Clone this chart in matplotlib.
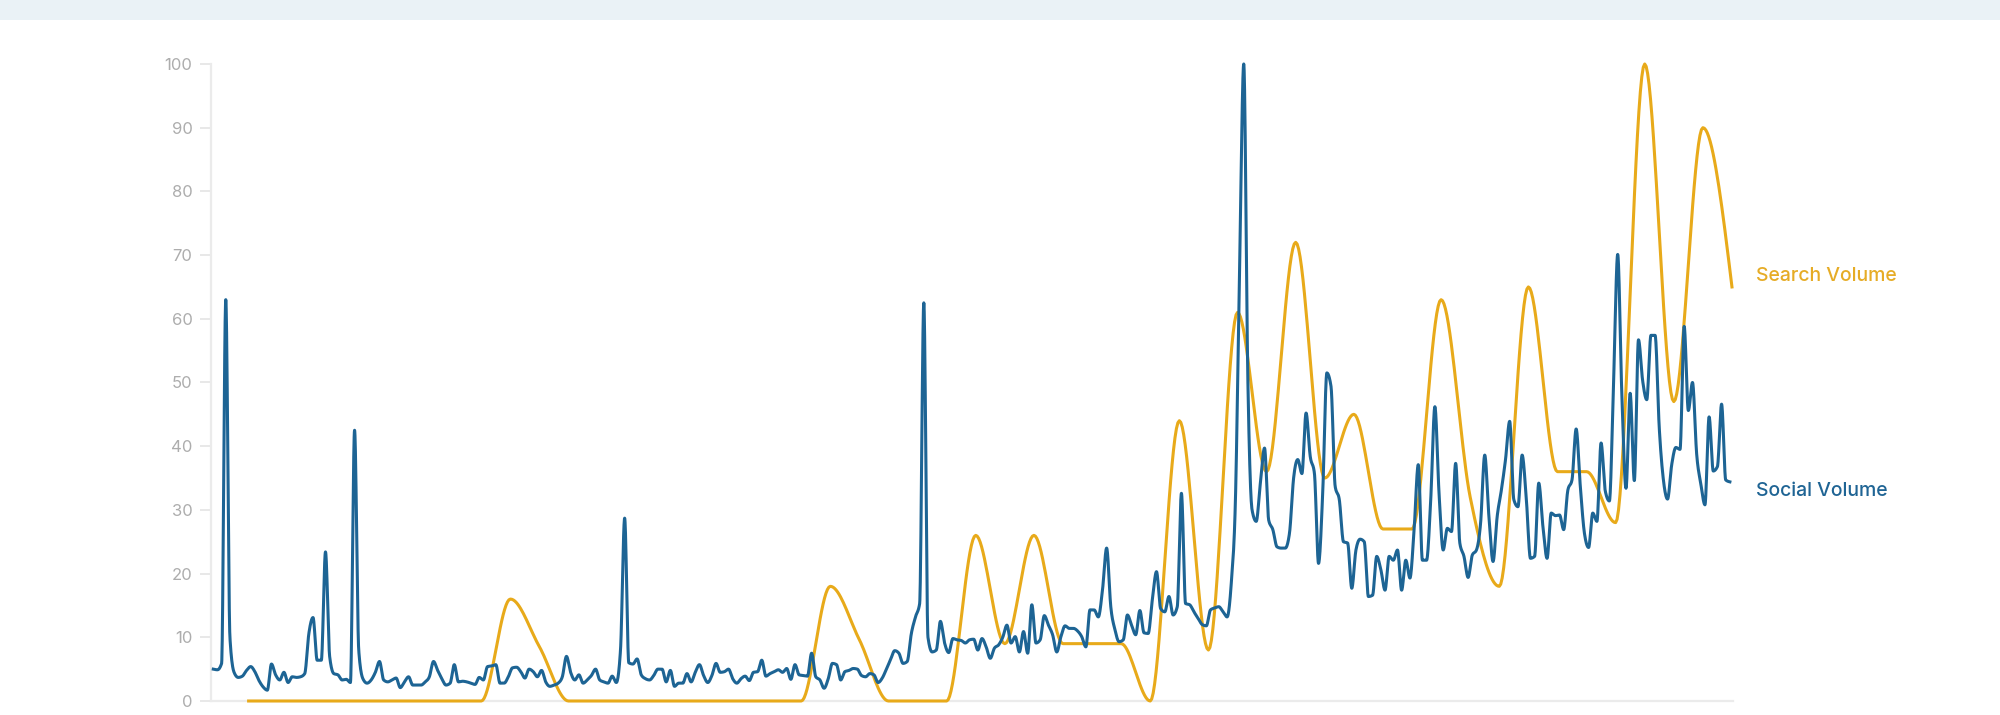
import numpy as np
import matplotlib
matplotlib.use("Agg")
import matplotlib.pyplot as plt
from matplotlib.patches import Rectangle

# daily social volume (index 0..100), one value per day
social = [
    5.0, 4.9, 5.9, 63.0, 10.0, 4.5, 3.7, 3.9, 4.8, 5.4,
    4.6, 3.2, 2.2, 1.7, 5.8, 4.1, 3.3, 4.5, 2.9, 3.8,
    3.7, 3.8, 4.3, 10.6, 13.1, 6.4, 6.4, 23.4, 7.0, 4.3,
    4.1, 3.3, 3.4, 2.9, 42.5, 8.0, 3.5, 2.8, 3.3, 4.5,
    6.2, 3.3, 3.0, 3.3, 3.6, 2.1, 3.0, 3.8, 2.5, 2.5,
    2.5, 3.0, 3.8, 6.2, 4.8, 3.5, 2.5, 2.8, 5.7, 3.0,
    3.1, 3.0, 2.8, 2.6, 3.7, 3.3, 5.4, 5.5, 5.7, 2.8,
    2.8, 3.8, 5.2, 5.3, 4.6, 3.6, 5.0, 4.6, 3.8, 4.8,
    3.0, 2.3, 2.5, 2.8, 3.8, 7.0, 4.5, 3.3, 4.1, 2.8,
    3.3, 4.0, 5.0, 3.3, 3.0, 2.8, 3.9, 2.9, 8.0, 28.7,
    6.0, 5.8, 6.6, 4.1, 3.5, 3.3, 4.0, 5.0, 5.0, 3.0,
    4.8, 2.3, 2.8, 2.8, 4.3, 3.0, 4.5, 5.7, 4.0, 2.9,
    4.0, 5.9, 4.5, 4.6, 5.0, 3.5, 2.8, 3.5, 3.9, 3.2,
    4.5, 4.6, 6.4, 3.9, 4.3, 4.6, 4.9, 4.5, 5.1, 3.4,
    5.7, 4.1, 4.0, 3.9, 7.5, 3.8, 3.3, 2.0, 3.5, 5.9,
    5.7, 3.3, 4.6, 4.8, 5.1, 5.0, 4.0, 3.8, 4.3, 4.1,
    2.9, 3.6, 5.0, 6.5, 7.9, 7.5, 5.9, 6.2, 10.6, 13.2,
    15.3, 62.5, 10.0, 7.7, 8.0, 12.5, 9.1, 7.6, 9.8, 9.6,
    9.5, 9.1, 9.6, 9.7, 8.0, 9.8, 8.5, 6.7, 8.3, 8.8,
    10.0, 11.9, 9.1, 10.1, 7.7, 10.9, 7.5, 15.1, 9.1, 9.6,
    13.4, 11.9, 10.4, 7.7, 10.1, 11.8, 11.4, 11.4, 11.0, 10.1,
    8.5, 14.3, 14.3, 13.2, 17.4, 24.0, 14.8, 11.2, 9.3, 9.6,
    13.5, 11.9, 10.4, 14.2, 10.7, 10.6, 15.9, 20.3, 14.5, 14.0,
    16.4, 13.5, 14.8, 32.6, 15.3, 15.1, 14.0, 13.0, 12.0, 11.8,
    14.3, 14.6, 14.8, 14.0, 13.2, 18.5, 31.6, 68.0, 100.0, 50.0,
    30.0, 28.2, 34.2, 39.7, 28.4, 26.9, 24.2, 24.0, 24.0, 26.3,
    35.0, 37.9, 35.7, 45.2, 38.4, 35.8, 21.6, 32.6, 51.5, 49.4,
    33.7, 31.6, 25.0, 24.8, 17.7, 23.7, 25.4, 25.0, 16.4, 16.6,
    22.7, 20.6, 17.4, 22.7, 22.1, 23.7, 17.4, 22.1, 19.3, 26.9,
    37.1, 22.1, 22.1, 31.6, 46.2, 32.6, 23.7, 27.1, 26.6, 37.3,
    24.8, 22.7, 19.4, 22.9, 23.7, 27.9, 38.6, 29.0, 21.9, 29.0,
    33.1, 37.9, 43.9, 31.6, 30.5, 38.6, 31.8, 22.4, 22.7, 34.2,
    27.4, 22.4, 29.5, 29.1, 29.2, 26.9, 33.1, 34.7, 42.7, 33.7,
    26.3, 24.1, 29.5, 28.2, 40.5, 33.0, 31.4, 50.0, 70.1, 48.0,
    33.4, 48.3, 34.6, 56.7, 50.3, 47.3, 57.4, 57.4, 42.9, 34.7,
    31.7, 37.1, 39.8, 39.5, 58.8, 45.6, 50.0, 38.8, 34.1, 30.8,
    44.6, 36.1, 36.8, 46.6, 34.7, 34.4,
]

# weekly search volume (index 0..100)
search = [
    0, 0, 0, 0, 0, 0, 0, 0, 0, 16, 8.5,
    0, 0, 0, 0, 0, 0, 0, 0, 0, 18, 9.6,
    0, 0, 0, 26, 9, 26, 9, 9, 9, 0,
    44, 8, 61, 36, 72, 35, 45, 27, 27, 63,
    32, 18, 65, 36, 36, 28, 100, 47, 90, 65,
]

social_days = np.arange(len(social))
search_days = 8.5 + 7 * np.arange(len(search))
yticks = list(range(0, 101, 10))

BLUE = "#1d6494"
GOLD = "#e8aa1a"


def monotone_path(x, y, n=20):
    # cubic hermite with monotone (Steffen) tangents, like d3.curveMonotoneX
    x = np.asarray(x, float)
    y = np.asarray(y, float)
    h = np.diff(x)
    s = np.diff(y) / h
    m = np.zeros_like(y)
    s0, s1, h0, h1 = s[:-1], s[1:], h[:-1], h[1:]
    p = (s0 * h1 + s1 * h0) / (h0 + h1)
    m[1:-1] = (np.sign(s0) + np.sign(s1)) * np.minimum(
        np.minimum(np.abs(s0), np.abs(s1)), 0.5 * np.abs(p))
    m[0] = (3 * s[0] - m[1]) / 2
    m[-1] = (3 * s[-1] - m[-2]) / 2
    t = np.linspace(0, 1, n, endpoint=False)
    xs, ys = [], []
    for i in range(len(h)):
        h00 = 2 * t**3 - 3 * t**2 + 1
        h10 = t**3 - 2 * t**2 + t
        h01 = -2 * t**3 + 3 * t**2
        h11 = t**3 - t**2
        xs.append(x[i] + t * h[i])
        ys.append(h00 * y[i] + h10 * h[i] * m[i] + h01 * y[i + 1] + h11 * h[i] * m[i + 1])
    xs.append([x[-1]])
    ys.append([y[-1]])
    return np.concatenate(xs), np.concatenate(ys)


plt.rcParams["font.family"] = ["Inter", "DejaVu Sans"]

fig = plt.figure(figsize=(20, 7.15), dpi=100)
fig.patches.append(Rectangle((0, 1 - 20 / 715), 1, 20 / 715, transform=fig.transFigure,
                             facecolor="#eaf2f6", edgecolor="none", zorder=0))
ax = fig.add_axes([0.1053, 0.0196, 0.7612, 0.8909])

sx, sy = monotone_path(search_days, search)
ax.plot(sx, sy, color=GOLD, lw=2.2, clip_on=False, solid_joinstyle="round", zorder=3)
bx, by = monotone_path(social_days, social)
ax.plot(bx, by, color=BLUE, lw=2.2, clip_on=False, solid_joinstyle="round", zorder=4)

ax.set_xlim(-0.65, 365.75)
ax.set_ylim(0, 100)
ax.set_yticks(yticks)
ax.set_xticks([])

for side in ["top", "right"]:
    ax.spines[side].set_visible(False)
for side in ["left", "bottom"]:
    ax.spines[side].set_color("#ebebeb")
    ax.spines[side].set_linewidth(1.6)

ax.tick_params(axis="y", length=8, width=1.4, color="#e8e8e8",
               labelcolor="#adadad", labelsize=12, pad=5)

ax.text(371.3, 66.7, "Search Volume", color="#e6ac26", fontsize=14, fontweight="medium",
        va="center", ha="left", clip_on=False)
ax.text(371.3, 33.0, "Social Volume", color="#1f6494", fontsize=14, fontweight="medium",
        va="center", ha="left", clip_on=False)

fig.savefig("out.png", dpi=100, facecolor="white")
